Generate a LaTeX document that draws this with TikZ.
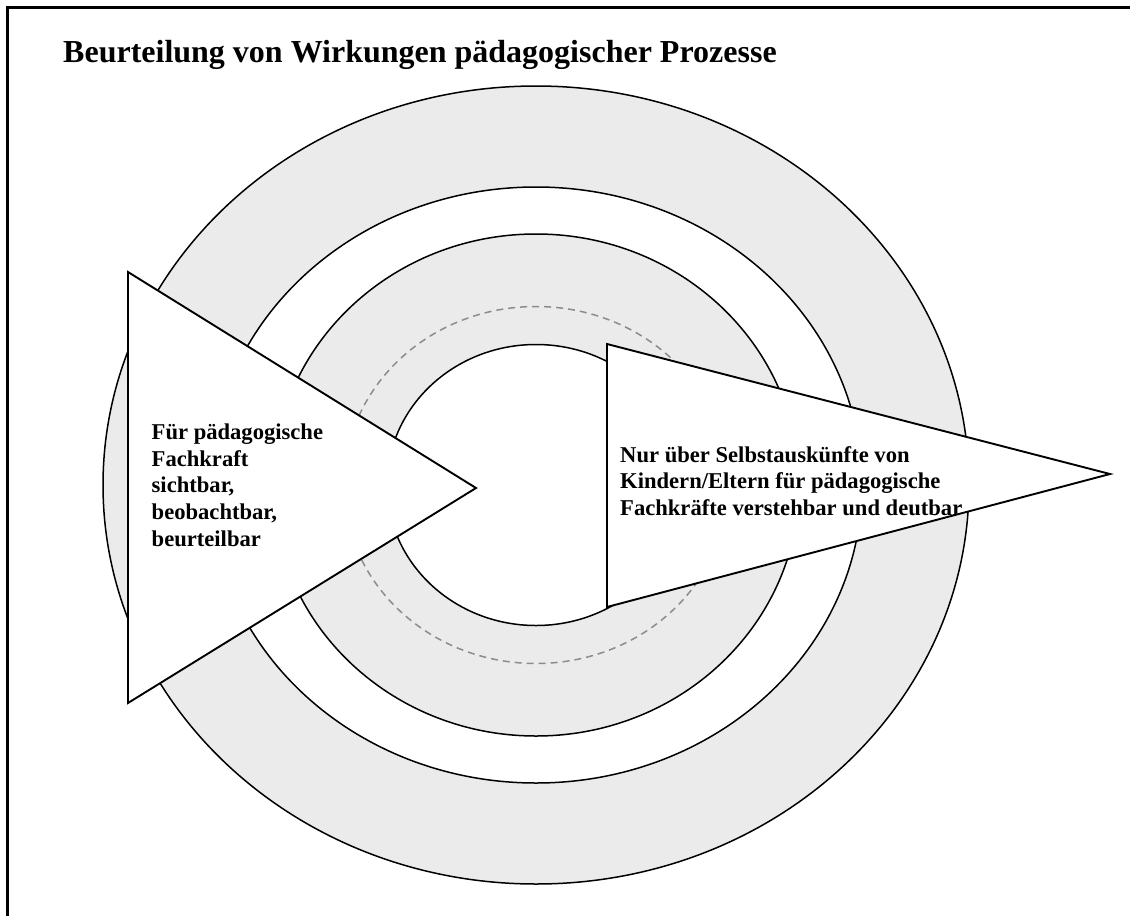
\documentclass[tikz,border=0pt]{standalone}
\usepackage{fontspec}
\setmainfont{Liberation Serif}
\definecolor{bandgrey}{HTML}{EBEBEB}
\definecolor{dashgrey}{HTML}{8C8C8C}
\begin{document}
\begin{tikzpicture}[x=1pt,y=-1pt,
  ring/.style={draw=black, line width=1.5pt},
  band/.style={ring, fill=bandgrey},
  gap/.style={ring, fill=white},
  pointer/.style={draw=black, fill=white, line width=1.9pt, line join=miter},
  label/.style={font=\fontsize{22.6}{26.7}\selectfont\bfseries, align=left, inner sep=0pt}
]
\useasboundingbox (0,0) rectangle (1130,916);

% frame (only top and left edges fall inside the page)
\draw[line width=2.2pt] (1130,7.5) -- (7.5,7.5) -- (7.5,916);

% title
\node[anchor=base west, inner sep=0pt, font=\fontsize{32}{37}\selectfont\bfseries]
  (title) at (63,62.7) {Beurteilung von Wirkungen pädagogischer Prozesse};

% concentric rings
\coordinate (c) at (536,485);
\path[band] (c) ellipse [x radius=433pt, y radius=399pt];
\path[gap]  (c) ellipse [x radius=326pt, y radius=298pt];
\path[band] (c) ellipse [x radius=263pt, y radius=251pt];
\draw[dashgrey, line width=1.5pt, dash pattern=on 7pt off 5pt]
  (c) ellipse [x radius=192pt, y radius=178.5pt];
\path[gap]  (c) ellipse [x radius=149pt, y radius=140.5pt];

% left pointer
\coordinate (lt) at (128,272);
\coordinate (lb) at (128,703);
\coordinate (lp) at (476,488);
\draw[pointer] (lt) -- (lp) -- (lb) -- cycle;

% right pointer
\coordinate (rt) at (607,344);
\coordinate (rb) at (607,607);
\coordinate (rp) at (1110,474);
\draw[pointer] (rt) -- (rp) -- (rb) -- cycle;

% texts
\node[label, anchor=west] (leftlabel) at (151.5,485)
  {Für pädagogische\\Fachkraft\\sichtbar,\\beobachtbar,\\beurteilbar};
\node[label, anchor=west] (rightlabel) at (620,481)
  {Nur über Selbstauskünfte von\\Kindern/Eltern für pädagogische\\Fachkräfte verstehbar und deutbar};
\end{tikzpicture}
\end{document}
